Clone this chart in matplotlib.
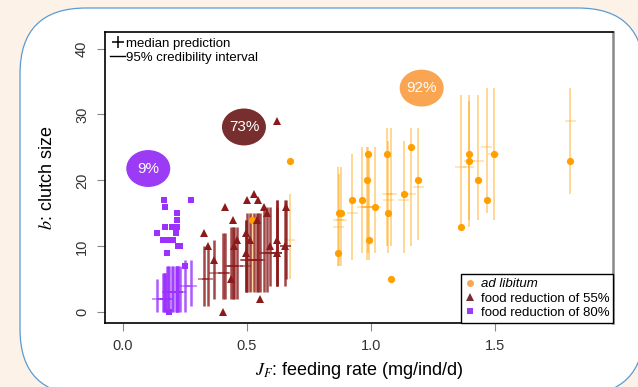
"""Clutch size against feeding rate, observed vs. predicted, for three food levels."""

import matplotlib.pyplot as plt
from matplotlib.lines import Line2D
from matplotlib.patches import Ellipse, FancyBboxPatch

# ad libitum: feeding rate, observed clutch, median prediction, 95% interval
adlib_x = [0.522, 0.673, 0.868, 0.870, 0.880, 0.923, 0.963, 0.982, 0.986, 0.992, 1.017, 1.064,
           1.069, 1.080, 1.131, 1.159, 1.190, 1.361, 1.392, 1.395, 1.431, 1.465, 1.493, 1.800]
adlib_obs = [14, 23, 9, 15, 15, 17, 17, 20, 24, 11, 16, 24, 15, 5, 18, 25, 20, 13, 23, 24, 20, 17, 24, 23]
adlib_med = [8, 11, 14, 13, 14, 15, 16, 16, 16, 16, 16, 18, 17, 18, 17, 18, 19, 22, 22, 23, 23, 25, 24, 29]
adlib_lo = [3, 5, 7, 7, 7, 8, 9, 8, 9, 8, 9, 10, 9, 10, 9, 10, 11, 13, 13, 14, 14, 15, 14, 18]
adlib_hi = [15, 18, 22, 21, 22, 24, 25, 25, 25, 24, 25, 28, 26, 28, 26, 28, 28, 33, 32, 33, 33, 34, 34, 34]

# food reduction of 55%
red55_x = [0.326, 0.342, 0.369, 0.404, 0.410, 0.435, 0.443, 0.447, 0.461, 0.496, 0.496, 0.499, 0.513,
           0.530, 0.539, 0.543, 0.551, 0.570, 0.579, 0.593, 0.620, 0.620, 0.620, 0.654, 0.657]
red55_obs = [12, 10, 8, 0, 16, 5, 14, 10, 11, 12, 9, 17, 11, 18, 14, 17, 2, 16, 15, 10, 11, 9, 29, 10, 16]
red55_med = [5, 5, 6, 6, 6, 7, 7, 7, 7, 7, 8, 8, 8, 8, 8, 8, 8, 9, 9, 9, 9, 9, 9, 10, 10]
red55_lo = [1, 1, 2, 2, 2, 2, 2, 2, 2, 3, 3, 3, 3, 3, 3, 3, 3, 3, 3, 4, 4, 4, 4, 4, 5]
red55_hi = [10, 10, 11, 12, 12, 13, 13, 13, 13, 14, 14, 15, 15, 15, 15, 15, 15, 16, 16, 16, 17, 17, 16, 17, 17]

# food reduction of 80%
red80_x = [0.139, 0.161, 0.166, 0.172, 0.172, 0.180, 0.181, 0.186, 0.198,
           0.201, 0.215, 0.217, 0.220, 0.220, 0.222, 0.232, 0.249, 0.276]
red80_obs = [12, 11, 17, 16, 13, 9, 11, 0, 13, 11, 12, 13, 15, 14, 10, 10, 7, 17]
red80_med = [2, 2, 2, 2, 2, 2, 3, 3, 3, 3, 3, 3, 3, 3, 3, 3, 4, 4]
red80_lo = [0, 0, 0, 0, 0, 0, 0, 0, 0, 0, 0, 0, 0, 0, 0, 0, 0, 1]
red80_hi = [5, 6, 6, 6, 6, 7, 7, 7, 7, 7, 7, 7, 7, 7, 7, 7, 8, 8]

# percentage bubbles: label, x, y
bubble_labels = ["92%", "73%", "9%"]
bubble_x = [1.203, 0.488, 0.103]
bubble_y = [34.0, 28.1, 21.8]

ORANGE = "#FFA000"
DARKRED = "#8B1A1A"
PURPLE = "#9B30FF"

plt.rcParams["font.family"] = ["Liberation Sans", "DejaVu Sans"]
plt.rcParams["mathtext.fontset"] = "stix"

fig = plt.figure(figsize=(6.38, 3.87), dpi=100, facecolor="#FCF2E7")
card = FancyBboxPatch(
    (0.20, -0.08), 6.24, 3.87, boxstyle="round,pad=0,rounding_size=0.66",
    transform=fig.dpi_scale_trans, facecolor="white", edgecolor="#5B9BD5",
    linewidth=0.9, zorder=-5,
)
fig.patches.append(card)

ax = fig.add_axes([0.1646, 0.1662, 0.7967, 0.7502])
ax.set_facecolor("white")

groups = [
    (adlib_x, adlib_obs, adlib_med, adlib_lo, adlib_hi, ORANGE, "o", 5.2, 0.42, 1.4),
    (red55_x, red55_obs, red55_med, red55_lo, red55_hi, DARKRED, "^", 6.0, 0.8, 1.8),
    (red80_x, red80_obs, red80_med, red80_lo, red80_hi, PURPLE, "s", 4.9, 0.8, 1.8),
]
half = 0.022
for xs, obs, med, lo, hi, color, marker, ms, alpha, lw in groups:
    ax.vlines(xs, lo, hi, color=color, alpha=alpha, linewidth=lw, zorder=2)
    ax.hlines(med, [x - half for x in xs], [x + half for x in xs],
              color=color, alpha=alpha * 0.8, linewidth=1.1, zorder=2)
for xs, obs, med, lo, hi, color, marker, ms, alpha, lw in groups:
    ax.plot(xs, obs, linestyle="none", marker=marker, markersize=ms,
            color=color, markeredgewidth=0, zorder=3)

bubble_colors = ["#F9A552", "#772E2E", "#9B3BF5"]
for label, bx, by, bc in zip(bubble_labels, bubble_x, bubble_y, bubble_colors):
    ax.add_patch(Ellipse((bx, by), 0.177, 5.6, facecolor=bc, edgecolor="none", zorder=4))
    ax.text(bx, by, label, color="white", fontsize=11, ha="center", va="center", zorder=5)

ax.set_xlim(-0.071, 1.974)
ax.set_ylim(-1.58, 42.45)
ax.set_xticks([0.0, 0.5, 1.0, 1.5])
ax.set_xticklabels(["0.0", "0.5", "1.0", "1.5"])
ax.set_yticks([0, 10, 20, 30, 40])
ax.tick_params(direction="out", length=5.5, width=0.8, color="#888888",
               labelcolor="#333333", labelsize=10.5)
ax.tick_params(axis="x", pad=6)
ax.tick_params(axis="y", pad=6)
for lab in ax.get_yticklabels():
    lab.set_rotation(90)
    lab.set_va("center")
for side in ["left", "top", "bottom"]:
    ax.spines[side].set_color("black")
    ax.spines[side].set_linewidth(1.2)
ax.spines["right"].set_color("#888888")
ax.spines["right"].set_linewidth(1.8)

ax.set_xlabel(r"$J_F$: feeding rate (mg/ind/d)", fontsize=13, labelpad=5)
ax.set_ylabel(r"$b$: clutch size", fontsize=13, labelpad=14)

key = ax.legend(
    handles=[
        Line2D([], [], linestyle="none", marker="+", markersize=9, color="black", markeredgewidth=1.1),
        Line2D([], [], color="black", linewidth=1.0),
    ],
    labels=["median prediction", "95% credibility interval"],
    loc="upper left", frameon=False, fontsize=9.5, handlelength=1.1,
    handletextpad=0.1, labelspacing=0.15, borderaxespad=0.25, borderpad=0.15,
)
ax.add_artist(key)

ax.legend(
    handles=[
        Line2D([], [], linestyle="none", marker="o", markersize=5, color="#F9A552", markeredgewidth=0),
        Line2D([], [], linestyle="none", marker="^", markersize=6, color="#772E2E", markeredgewidth=0),
        Line2D([], [], linestyle="none", marker="s", markersize=5, color="#9B3BF5", markeredgewidth=0),
    ],
    labels=["ad libitum", "food reduction of 55%", "food reduction of 80%"],
    loc="lower right", fontsize=9.5, fancybox=False, edgecolor="black", framealpha=1,
    handlelength=0.7, handletextpad=0.5, labelspacing=0.15, borderaxespad=0,
    borderpad=0.3,
).get_frame().set_linewidth(1.0)
ax.get_legend().get_texts()[0].set_style("italic")

fig.savefig("out.png", dpi=100, facecolor=fig.get_facecolor())
